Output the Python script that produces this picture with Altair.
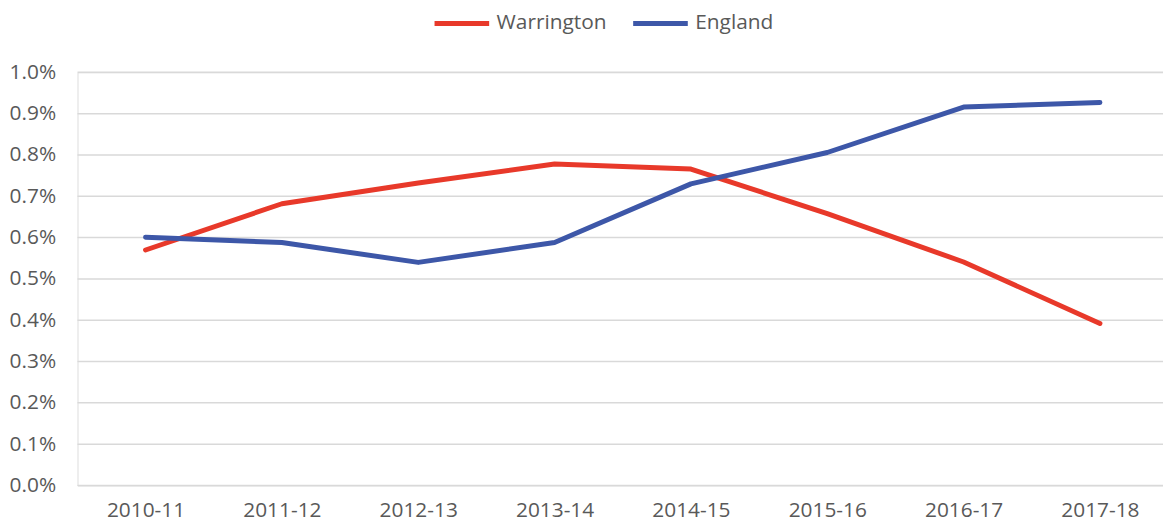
import altair as alt
import pandas as pd

years = ["2010-11", "2011-12", "2012-13", "2013-14", "2014-15", "2015-16", "2016-17", "2017-18"]
warrington = [0.00570, 0.00682, 0.00732, 0.00778, 0.00766, 0.00658, 0.00541, 0.00392]
england = [0.00601, 0.00588, 0.00540, 0.00588, 0.00730, 0.00806, 0.00916, 0.00927]
series = ["Warrington", "England"]
colors = ["#E8392A", "#3D57A8"]
y_ticks = [0.0, 0.001, 0.002, 0.003, 0.004, 0.005, 0.006, 0.007, 0.008, 0.009, 0.010]

rows = []
for name, vals in zip(series, [warrington, england]):
    for y, v in zip(years, vals):
        rows.append({"year": y, "series": name, "value": v})
df = pd.DataFrame(rows)
grid_df = pd.DataFrame({"value": y_ticks})

FONT = "Open Sans"
TXT = "#595959"
W, H = 1093, 416

yscale = alt.Scale(domain=[0, 0.01], nice=False)

grid = alt.Chart(grid_df).mark_rule(color="#D9D9D9", strokeWidth=1.5).encode(
    y=alt.Y("value:Q", scale=yscale, title=None,
            axis=alt.Axis(values=y_ticks, format=".1%", ticks=False, domain=False, grid=False,
                          labelPadding=22, labelFontSize=21, labelColor=TXT, labelFont=FONT)),
    x=alt.value(0),
    x2=alt.value(W),
)

lines = alt.Chart(df).mark_line(strokeWidth=5, strokeCap="round", strokeJoin="round").encode(
    x=alt.X("year:N", sort=years, title=None,
            scale=alt.Scale(type="point", padding=0, range=[68.5, 1029.5]),
            axis=alt.Axis(labelAngle=0, ticks=False, domain=False, grid=False,
                          labelPadding=14, labelFontSize=21, labelColor=TXT, labelFont=FONT)),
    y=alt.Y("value:Q", scale=yscale, title=None),
    color=alt.Color("series:N", sort=series,
                    scale=alt.Scale(domain=series, range=colors),
                    legend=alt.Legend(title=None, orient="none", direction="horizontal",
                                      legendX=373.5, legendY=-63,
                                      symbolType="M-2.5,0H2.5", symbolStrokeWidth=5,
                                      symbolSize=484, labelOffset=21.5, columnPadding=16,
                                      labelFontSize=21, labelColor=TXT, labelFont=FONT)),
    order=alt.Order("series:N"),
)

chart = alt.layer(grid, lines).properties(
    width=W, height=H,
    padding={"left": 70, "top": 63, "right": 0, "bottom": 40},
    autosize=alt.AutoSizeParams(type="none"),
).configure_view(stroke=None).configure(font=FONT)

chart.save("out.html", embed_options={"renderer": "svg", "actions": False})
